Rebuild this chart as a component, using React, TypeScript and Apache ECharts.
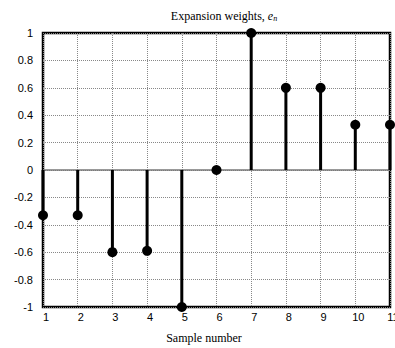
import React, { useEffect, useRef } from "react";
import * as echarts from "echarts";

const samples = [1, 2, 3, 4, 5, 6, 7, 8, 9, 10, 11];
const weights = [-0.33, -0.33, -0.6, -0.59, -1, 0, 1, 0.6, 0.6, 0.33, 0.33];
const titleText = "Expansion weights, ";
const xAxisTitle = "Sample number";

export default function App() {
  const ref = useRef<HTMLDivElement>(null);
  useEffect(() => {
    if (!ref.current) return;
    const chart = echarts.init(ref.current, null, { renderer: "svg" });
    const data = samples.map((s, i) => [s, weights[i]]);
    chart.setOption({
      animation: false,
      backgroundColor: "#fff",
      title: {
        text: "{a|" + titleText + "}{e|e}{n|n}",
        left: 219,
        textAlign: "center",
        top: 4,
        textStyle: {
          fontWeight: "normal",
          rich: {
            a: { fontFamily: "Liberation Serif", fontWeight: "normal", fontSize: 12, color: "#000" },
            e: { fontFamily: "Liberation Serif", fontWeight: "normal", fontStyle: "italic", fontSize: 12, color: "#000" },
            n: { fontFamily: "Liberation Serif", fontWeight: "normal", fontStyle: "italic", fontSize: 8, color: "#000", padding: [5, 0, 0, 0] },
          },
        },
      },
      grid: {
        left: 43,
        right: 5,
        top: 33,
        bottom: 41,
        outerBoundsMode: "none",
        containLabel: false,
        show: true,
        borderColor: "#000",
        borderWidth: 2.5,
        backgroundColor: "transparent",
      },
      xAxis: {
        type: "value",
        min: 1,
        max: 11,
        interval: 1,
        name: xAxisTitle,
        nameLocation: "middle",
        nameGap: 25,
        nameTextStyle: { fontFamily: "Liberation Serif", fontSize: 12, color: "#000", padding: [0, 0, 0, -25] },
        axisLine: { show: false },
        axisTick: { show: false },
        axisLabel: {
          fontFamily: "Liberation Sans",
          fontSize: 11,
          color: "#000",
          margin: 4,
          padding: [0, 0, 0, 6],
          hideOverlap: false,
        },
        splitLine: { show: true, lineStyle: { color: "#888", type: [1, 1], width: 1 } },
      },
      yAxis: {
        type: "value",
        min: -1,
        max: 1,
        interval: 0.2,
        axisLine: { show: false },
        axisTick: { show: false },
        axisLabel: {
          fontFamily: "Liberation Sans",
          fontSize: 11,
          color: "#000",
          margin: 10,
          padding: [4, 0, 0, 0],
          formatter: (v: number) => String(Math.round(v * 10) / 10),
        },
        splitLine: { show: true, lineStyle: { color: "#888", type: [1, 1], width: 1 } },
      },
      series: [
        {
          type: "line",
          data: [[1, 0], [11, 0]],
          symbol: "none",
          lineStyle: { color: "#777", width: 1.5 },
          silent: true,
          z: 1,
        },
        {
          type: "custom",
          data,
          clip: false,
          z: 3,
          renderItem: (params: any, api: any) => {
            const x = api.value(0);
            const y = api.value(1);
            const p0 = api.coord([x, 0]);
            const p1 = api.coord([x, y]);
            return {
              type: "line",
              shape: { x1: p0[0], y1: p0[1], x2: p1[0], y2: p1[1] },
              style: { stroke: "#000", lineWidth: 3 },
            };
          },
        },
        {
          type: "scatter",
          data,
          symbol: "circle",
          symbolSize: 10,
          clip: false,
          itemStyle: { color: "#000", opacity: 1 },
          z: 4,
        },
      ],
    });
    return () => chart.dispose();
  }, []);
  return <div ref={ref} style={{ width: 395, height: 348, position: "absolute", left: 0, top: 0 }} />;
}
